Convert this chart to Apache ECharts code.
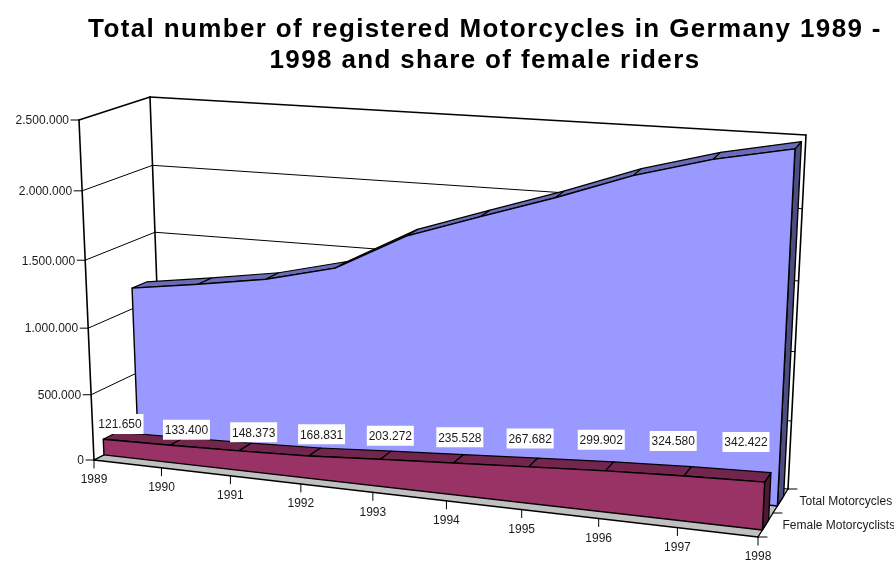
<!DOCTYPE html>
<html><head><meta charset="utf-8">
<style>html,body{margin:0;padding:0;background:#fff}#c{width:894px;height:563px}</style>
<script src="https://cdn.jsdelivr.net/npm/echarts@6/dist/echarts.min.js"></script>
</head><body><div id="c"></div>
<script>
const years = ['1989','1990','1991','1992','1993','1994','1995','1996','1997','1998'];
const totalMotorcycles = [1155000,1227000,1307000,1431000,1704000,1879000,2051000,2240000,2385000,2490000];
const femaleMotorcyclists = [121650,133400,148373,168831,203272,235528,267682,299902,324580,342422];
const valueTicks = [0,500000,1000000,1500000,2000000,2500000];
const valueTickLabels = ['0','500.000','1.000.000','1.500.000','2.000.000','2.500.000'];
const depthNames = ['Female Motorcyclists','Total Motorcycles'];
const titleText = 'Total number of registered Motorcycles in Germany 1989 -\n1998 and share of female riders';

// The reference title is letter-spaced; applied to bold text only.
const baseFillText = CanvasRenderingContext2D.prototype.fillText;
CanvasRenderingContext2D.prototype.fillText = function(s,x,y,m){
  const spaced = /bold/.test(this.font) && 'letterSpacing' in this;
  if(spaced) this.letterSpacing='1.36px';
  const r = m===undefined ? baseFillText.call(this,s,x,y) : baseFillText.call(this,s,x,y,m);
  if(spaced) this.letterSpacing='0px';
  return r;
};

// Picture frame of the 3D box: [x,y] of corners, named by (category, value, depth)
const box = {
  c000:[94,460], c100:[758,537], c010:[79,120], c110:[775,170],
  c001:[162,425], c101:[788,489], c011:[150,97], c111:[806,135]
};
const warp = (t,a)=> t*(1+a)/(1+a*t);
function proj(u,v,d){
  const U=warp(u,-0.095), V=warp(v,-0.05), D=d;
  const r=[0,0];
  for(let k=0;k<2;k++){
    const m=(a,b)=>a[k]*(1-D)+b[k]*D;
    const b0=m(box.c000,box.c001)*(1-U)+m(box.c100,box.c101)*U;
    const b1=m(box.c010,box.c011)*(1-U)+m(box.c110,box.c111)*U;
    r[k]=b0*(1-V)+b1*V;
  }
  return r;
}
// depth slabs of the two rows
const rowF=[0.146,0.354], rowT=[0.646,0.854];
const FONT='12px "Liberation Sans", Arial, sans-serif';
const INK='#1a1a1a';

function mapper(api){
  const o=api.coord([0,0]), e=api.coord([years.length-1,valueTicks[valueTicks.length-1]]);
  return (i,val,d)=>{
    const p=api.coord([i,val]);
    return proj((p[0]-o[0])/(e[0]-o[0]),(p[1]-o[1])/(e[1]-o[1]),d);
  };
}
const line=(a,b,w)=>({type:'line',silent:true,shape:{x1:a[0],y1:a[1],x2:b[0],y2:b[1]},style:{stroke:'#000',lineWidth:w||1,lineCap:'round'}});
const poly=(pts,fill,stroke,w)=>({type:'polygon',silent:true,shape:{points:pts},style:{fill:fill,stroke:stroke||null,lineWidth:w||0,lineJoin:'round'}});
const txt=(s,x,y,align)=>({type:'text',silent:true,style:{text:s,x:x,y:y+1,font:FONT,fill:INK,align:align,verticalAlign:'middle'}});

function renderFrame(params,api){
  if(params.dataIndex!==0) return null;
  const P=mapper(api), last=years.length-1, top=valueTicks[valueTicks.length-1];
  const ch=[];
  // floor
  ch.push(poly([P(0,0,0),P(last,0,0),P(last,0,1),P(0,0,1)],'#c0c0c0'));
  // gridlines
  valueTicks.forEach((t,k)=>{
    const w=(k===valueTicks.length-1)?1.6:1;
    ch.push(line(P(0,t,0),P(0,t,1),w));
    ch.push(line(P(0,t,1),P(last,t,1),w));
    const a=P(0,t,0);
    ch.push(line([a[0]-8,a[1]],a,1));
    ch.push(txt(valueTickLabels[k],a[0]-10,a[1],'right'));
  });
  // box edges
  ch.push(line(P(0,0,0),P(0,top,0),1.6));
  ch.push(line(P(0,0,1),P(0,top,1),1.6));
  ch.push(line(P(last,0,1),P(last,top,1),1.6));
  ch.push(line(P(0,0,0),P(0,0,1),1.4));
  ch.push(line(P(last,0,0),P(last,0,1),1.4));
  ch.push(line(P(0,0,0),P(last,0,0),1.4));
  // category ticks and labels
  years.forEach((y,i)=>{
    const a=P(i,0,0);
    ch.push(line(a,[a[0],a[1]+8],1));
    ch.push(txt(y,a[0],a[1]+19,'center'));
  });
  // depth ticks and labels
  [0,0.5,1].forEach(d=>{const a=P(last,0,d);ch.push(line(a,[a[0]+9,a[1]],1));});
  depthNames.forEach((n,k)=>{const a=P(last,0,0.25+0.5*k);ch.push(txt(n,a[0]+17+2*k,a[1],'left'));});
  return {type:'group',children:ch};
}

function slab(values,row,cols){
  return function(params,api){
    if(params.dataIndex!==0) return null;
    const P=mapper(api), n=values.length, d0=row[0], d1=row[1], ch=[];
    const front=[],backTop=[];
    values.forEach((v,i)=>{front.push(P(i,v,d0));backTop.push(P(i,v,d1));});
    // right side
    ch.push(poly([P(n-1,values[n-1],d0),P(n-1,values[n-1],d1),P(n-1,0,d1),P(n-1,0,d0)],cols.side,'#000',1.4));
    // top strips
    for(let i=0;i<n-1;i++){
      ch.push(poly([front[i],front[i+1],backTop[i+1],backTop[i]],cols.top,'#000',1.2));
    }
    // front face
    ch.push(poly(front.concat([P(n-1,0,d0),P(0,0,d0)]),cols.front,'#000',1.4));
    return {type:'group',children:ch};
  };
}

function renderLabels(params,api){
  if(params.dataIndex!==0) return null;
  const o=api.coord([0,0]), e=api.coord([years.length-1,0]), ch=[];
  femaleMotorcyclists.forEach((v,i)=>{
    const p=api.coord([i,v]);
    const f=warp((p[0]-o[0])/(e[0]-o[0]),-0.05);
    const x=120+626*f, y=424+18*Math.sqrt(f);
    const s=String(v).replace(/\B(?=(\d{3})+$)/g,'.');
    ch.push({type:'rect',silent:true,shape:{x:x-23.5,y:y-10,width:47,height:20},style:{fill:'#fff'}});
    ch.push(txt(s,x,y,'center'));
  });
  return {type:'group',children:ch};
}

const pairs=a=>a.map((v,i)=>[i,v]);
const chart=echarts.init(document.getElementById('c'),null,{renderer:'canvas'});
chart.setOption({
  animation:false,
  backgroundColor:'#fff',
  title:{text:titleText,left:480,top:9,textAlign:'center',
    textStyle:{fontFamily:'"Liberation Sans", Arial, sans-serif',fontWeight:'bold',fontSize:26,lineHeight:31,color:'#000'}},
  grid:{left:0,right:0,top:0,bottom:0},
  xAxis:{type:'category',data:years,boundaryGap:false,show:false},
  yAxis:{type:'value',min:0,max:2500000,interval:500000,show:false},
  series:[
    {type:'custom',name:'Frame',clip:false,silent:true,z:1,data:pairs(totalMotorcycles),encode:{x:0,y:1},renderItem:renderFrame},
    {type:'custom',name:'Total Motorcycles',clip:false,silent:true,z:2,data:pairs(totalMotorcycles),encode:{x:0,y:1},
      renderItem:slab(totalMotorcycles,rowT,{front:'#9999ff',top:'#6b6bb8',side:'#4d4d80'})},
    {type:'custom',name:'Female Motorcyclists',clip:false,silent:true,z:3,data:pairs(femaleMotorcyclists),encode:{x:0,y:1},
      renderItem:slab(femaleMotorcyclists,rowF,{front:'#993366',top:'#73264d',side:'#4d1a33'})},
    {type:'custom',name:'Labels',clip:false,silent:true,z:4,data:pairs(femaleMotorcyclists),encode:{x:0,y:1},renderItem:renderLabels}
  ]
});
</script></body></html>
